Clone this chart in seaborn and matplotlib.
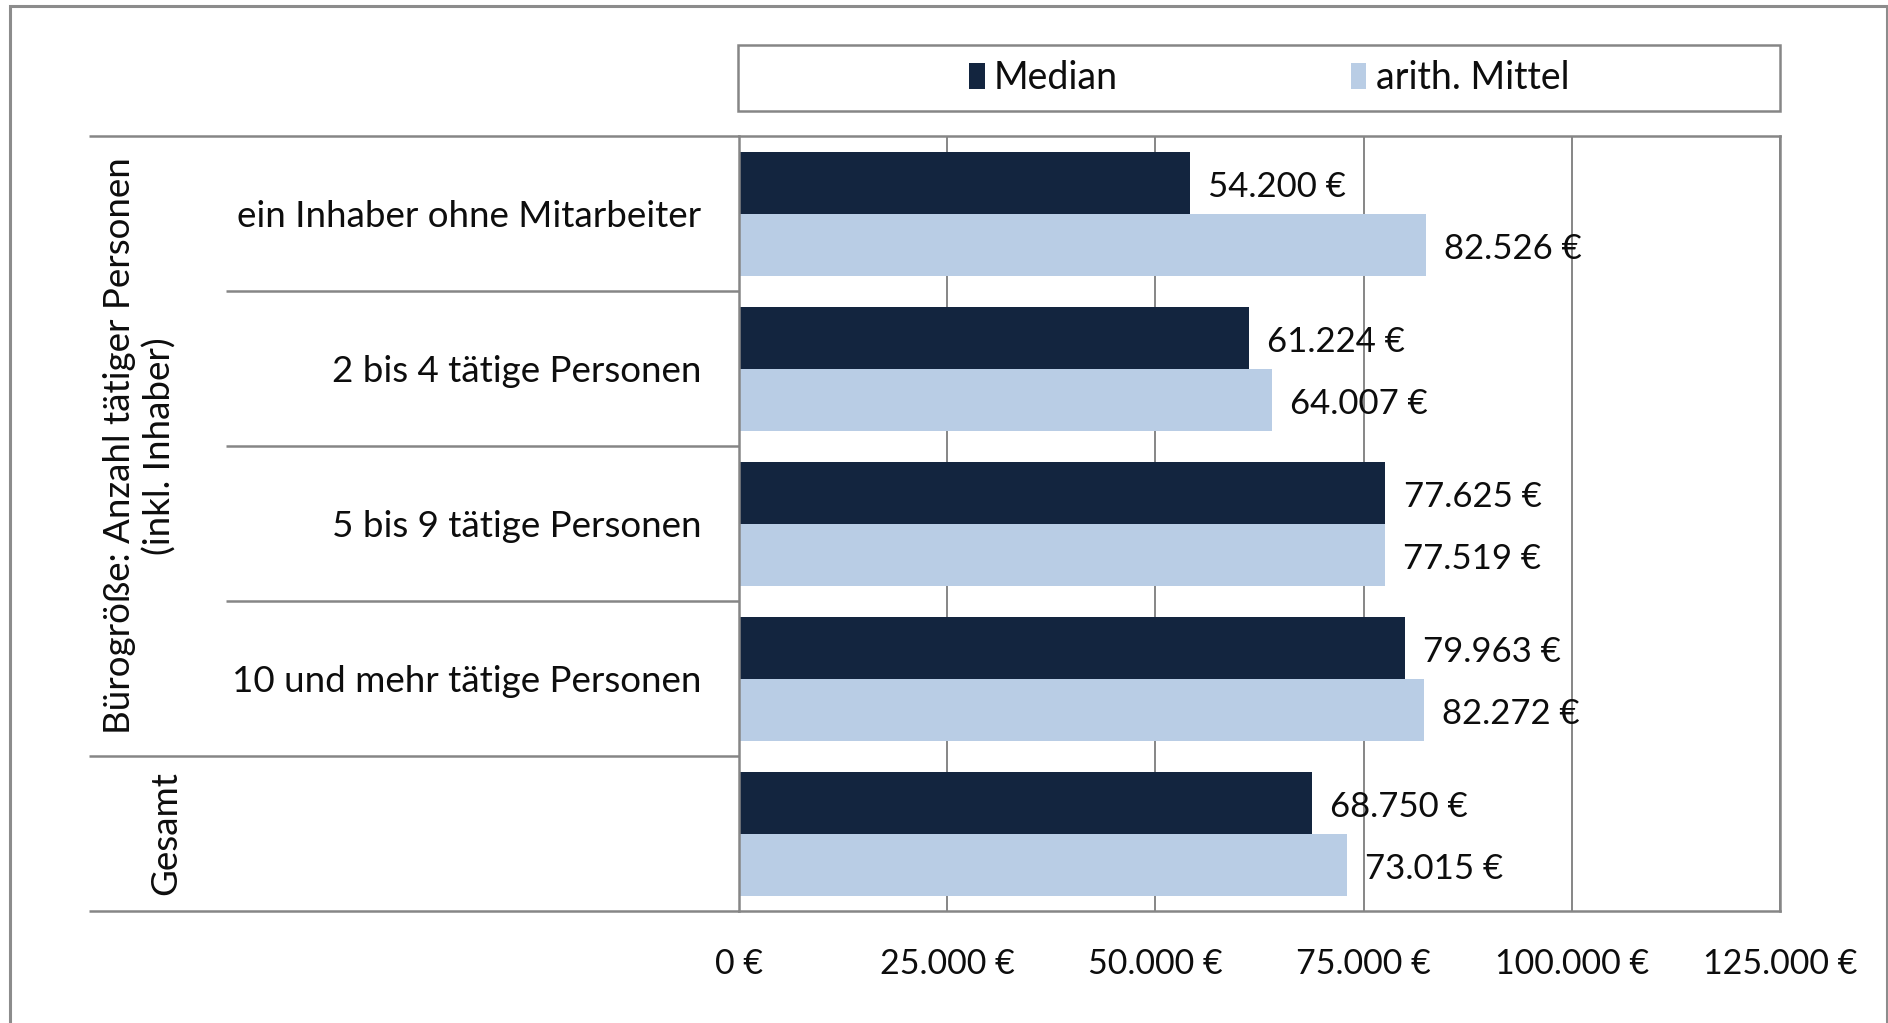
import matplotlib
matplotlib.use("Agg")
import matplotlib.pyplot as plt
from matplotlib.patches import Rectangle
from matplotlib.transforms import blended_transform_factory
import pandas as pd
import seaborn as sns

# --- data -------------------------------------------------------------------
categories = [
    "ein Inhaber ohne Mitarbeiter",
    "2 bis 4 tätige Personen",
    "5 bis 9 tätige Personen",
    "10 und mehr tätige Personen",
    "Gesamt",
]
median_values = [54200, 61224, 77625, 79963, 68750]
mean_values = [82526, 64007, 77519, 82272, 73015]
series_names = ["Median", "arith. Mittel"]
x_ticks = [0, 25000, 50000, 75000, 100000, 125000]
group_label = "Bürogröße: Anzahl tätiger Personen\n(inkl. Inhaber)"
total_label = "Gesamt"

DARK = "#13253F"
LIGHT = "#B9CDE5"
GRID = "#868686"
TEXT = "#0d0d0d"


def euro(v):
    return f"{v:,.0f} €".replace(",", ".")


df = pd.DataFrame({
    "Kategorie": categories * 2,
    "Wert": median_values + mean_values,
    "Reihe": [series_names[0]] * len(categories) + [series_names[1]] * len(categories),
})

sns.set_theme(style="white")
plt.rcParams["font.family"] = ["Lato", "DejaVu Sans"]
plt.rcParams["font.weight"] = "normal"
plt.rcParams["text.color"] = TEXT

W, H = 1888, 1023
fig = plt.figure(figsize=(W / 100, H / 100), dpi=100)


def fx(px):
    return px / W


def fy(py):
    return 1 - py / H


# outer frame of the figure
fig.patches.append(Rectangle((fx(10), fy(1030)), fx(1887) - fx(10), fy(6) - fy(1030),
                             transform=fig.transFigure, fill=False,
                             edgecolor="#8c8c8c", linewidth=2.2, zorder=0))

ax_left, ax_right, ax_top, ax_bottom = 739, 1780, 136, 911
ax = fig.add_axes([fx(ax_left), fy(ax_bottom), fx(ax_right) - fx(ax_left),
                   fy(ax_top) - fy(ax_bottom)])

sns.barplot(data=df, y="Kategorie", x="Wert", hue="Reihe", orient="h",
            palette=[DARK, LIGHT], saturation=1, width=0.8, linewidth=0,
            errorbar=None, ax=ax)

# value labels at the bar ends
for container in ax.containers:
    texts = ax.bar_label(container, labels=[euro(v) for v in container.datavalues],
                         padding=13, fontsize=25, color=TEXT)
    for t in texts:
        t.xyann = (13, -3.5)

ax.set_xlim(0, 125000)
ax.set_ylim(len(categories) - 0.5, -0.5)
ax.set_xticks(x_ticks)
ax.set_xticklabels([euro(v) for v in x_ticks], fontsize=24.5)
ax.set_yticks(range(len(categories)))
ax.set_yticklabels(categories[:-1] + [""], fontsize=26.5)
ax.tick_params(axis="x", length=0, pad=27, colors=TEXT)
ax.tick_params(axis="y", length=0, pad=27, colors=TEXT)
ax.set_xlabel("")
ax.set_ylabel("")
ax.grid(axis="x", color=GRID, linewidth=1.4)
ax.grid(axis="y", visible=False)
ax.set_axisbelow(True)
for sp in ax.spines.values():
    sp.set_color(GRID)
    sp.set_linewidth(1.8)

# table-like separators in the label area
trans = blended_transform_factory(ax.transAxes, ax.transData)
x_outer = (89 - ax_left) / (ax_right - ax_left)
x_inner = (226 - ax_left) / (ax_right - ax_left)
for yb, x0 in [(-0.5, x_outer), (0.5, x_inner), (1.5, x_inner), (2.5, x_inner),
               (3.5, x_outer), (4.5, x_outer)]:
    ax.plot([x0, 0], [yb, yb], transform=trans, clip_on=False,
            color=GRID, linewidth=1.8, solid_capstyle="butt")

ax.text((140 - ax_left) / (ax_right - ax_left), 1.5, group_label, transform=trans,
        rotation=90, ha="center", va="center", multialignment="center",
        fontsize=26.5, color=TEXT, linespacing=1.25)
ax.text((166 - ax_left) / (ax_right - ax_left), 4, total_label, transform=trans,
        rotation=90, ha="center", va="center", fontsize=26.5, color=TEXT)

# legend in its own box above the plot
fig.patches.append(Rectangle((fx(738), fy(111)), fx(1780) - fx(738), fy(45) - fy(111),
                             transform=fig.transFigure, fill=False,
                             edgecolor=GRID, linewidth=1.8))
sns.move_legend(ax, loc="center", bbox_to_anchor=(fx(1269), fy(78)),
                bbox_transform=fig.transFigure, ncol=2, frameon=False, title=None,
                fontsize=27, handlelength=0.42, handleheight=0.72,
                handletextpad=0.25, columnspacing=6.2, labelcolor=TEXT)

fig.savefig("out.png", dpi=100)
